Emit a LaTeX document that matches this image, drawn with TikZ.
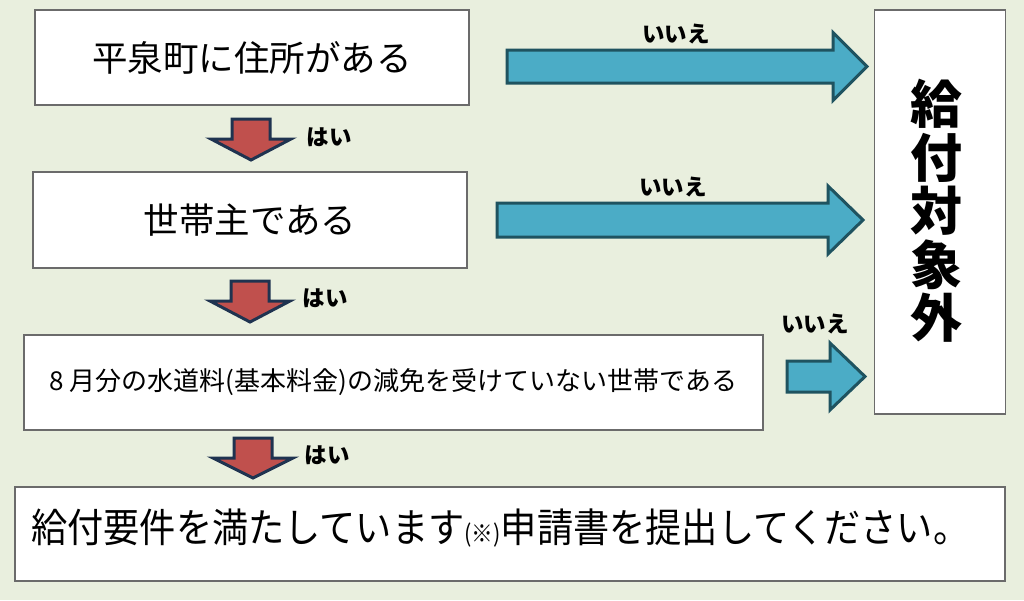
\documentclass[tikz,border=0pt]{standalone}
\usepackage{fontspec}
\newfontfamily\jp{Noto Sans CJK JP}
\definecolor{bgc}{HTML}{E9EFDE}
\definecolor{boxline}{HTML}{6B6B6B}
\definecolor{bluef}{HTML}{4BACC6}
\definecolor{bluel}{HTML}{1F5360}
\definecolor{redf}{HTML}{C0504D}
\definecolor{redl}{HTML}{1F3350}
\tikzset{
  box/.style={draw=boxline, line width=1.2pt, fill=white, inner sep=0pt},
  btext/.style={font=\jp\fontsize{35.5}{40}\selectfont},
  lab/.style={font=\jp\bfseries\fontsize{22.5}{26}\selectfont, inner sep=0pt},
  bluearr/.style={fill=bluef, draw=bluel, line width=3pt, line join=miter},
  redarr/.style={fill=redf, draw=redl, line width=3pt, line join=miter},
}
\newcommand{\rightarr}[7]{% tail, headstart, tip, cy, shafthalf, headhalf, name
  \coordinate (#7) at (#1,#4);
  \draw[bluearr] (#1,#4-#5) -- (#2,#4-#5) -- (#2,#4-#6) -- (#3,#4) -- (#2,#4+#6) -- (#2,#4+#5) -- (#1,#4+#5) -- cycle;}
\newcommand{\downarr}[5]{% cx, top, headstart, tip, name
  \coordinate (#5) at (#1,#2);
  \draw[redarr] (#1-19,#2) -- (#1+19,#2) -- (#1+19,#3) -- (#1+40,#3) -- (#1,#4) -- (#1-40,#3) -- (#1-19,#3) -- cycle;}
\begin{document}
\begin{tikzpicture}[x=1pt,y=-1pt]
\fill[bgc] (0,0) rectangle (1024,600);
\useasboundingbox (0,0) rectangle (1024,600);

% boxes
\node[box, minimum width=434pt, minimum height=95pt, btext] (b1) at (252,57.5) {平泉町に住所がある};
\node[box, minimum width=434pt, minimum height=96pt, btext] (b2) at (250,220) {世帯主である};
\node[box, minimum width=739pt, minimum height=95pt, font=\jp\fontsize{26}{30}\selectfont] (b3) at (393.5,382.5) {8 月分の水道料(基本料金)の減免を受けていない世帯である};
\node[box, minimum width=990pt, minimum height=94pt] (b4) at (510,534) {};
\node[anchor=west, inner sep=0pt, font=\jp\fontsize{40}{44}\selectfont] (t4) at (31,528)
  {\scalebox{0.905}[1]{給付要件を満たしています{\fontsize{24}{26}\selectfont(※)}申請書を提出してください。}};
\node[box, minimum width=131pt, minimum height=404pt] (nx) at (940,212) {};
\node[font=\jp\bfseries\fontsize{52}{53.5}\selectfont, align=center, inner sep=0pt] (nxt) at (936,211) {給\\付\\対\\象\\外};

% right arrows
\rightarr{507}{833}{867}{66.5}{16.5}{34}{r1}
\rightarr{497}{828}{863}{220}{17}{34}{r2}
\rightarr{787}{830}{865}{376.5}{15.5}{33.5}{r3}
\node[lab] (l1) at (676,34) {いいえ};
\node[lab] (l2) at (673,187) {いいえ};
\node[lab] (l3) at (815,324) {いいえ};

% down arrows
\downarr{251}{119}{139}{160}{d1}
\downarr{250}{281}{301}{322}{d2}
\downarr{253}{438}{458}{478}{d3}
\node[lab] (h1) at (329,137) {はい};
\node[lab] (h2) at (325,298) {はい};
\node[lab] (h3) at (327,455) {はい};
\end{tikzpicture}
\end{document}
